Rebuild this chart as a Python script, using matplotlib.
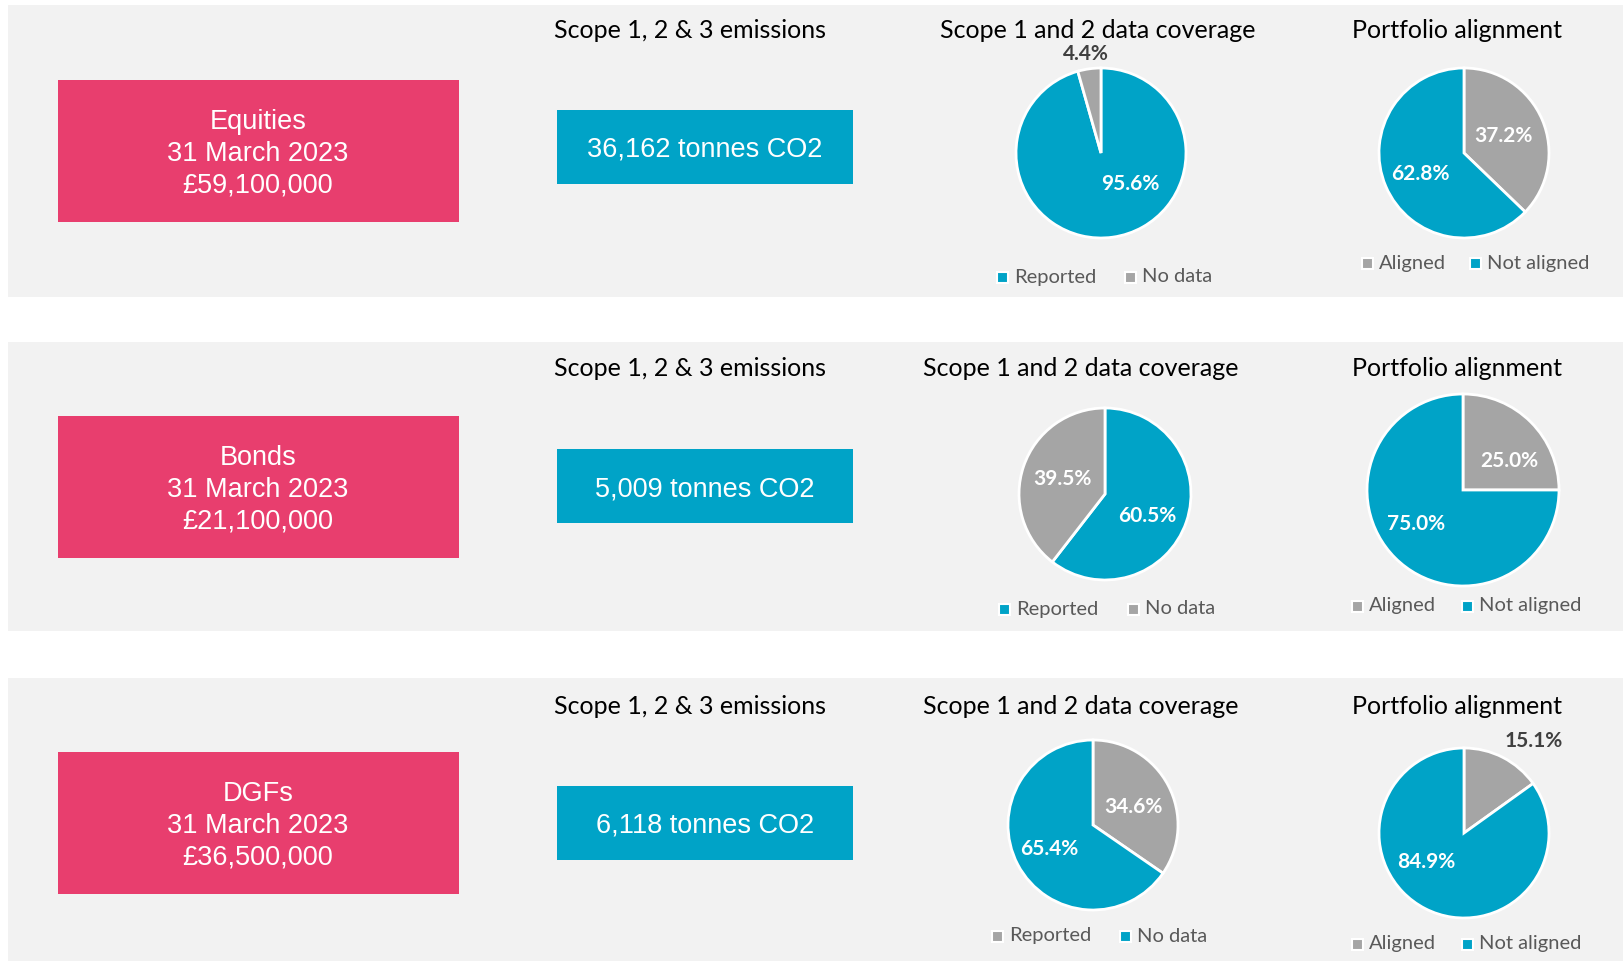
import numpy as np
import matplotlib.pyplot as plt
from matplotlib.patches import Rectangle

# data
funds = ['Equities', 'Bonds', 'DGFs']
dates = ['31 March 2023', '31 March 2023', '31 March 2023']
fund_values = [59100000, 21100000, 36500000]
emissions = [36162, 5009, 6118]
cov_labels = ['Reported', 'No data']
reported = [95.6, 60.5, 34.6]
no_data = [4.4, 39.5, 65.4]
align_labels = ['Aligned', 'Not aligned']
aligned = [37.2, 25.0, 15.1]
not_aligned = [62.8, 75.0, 84.9]

# colours
PINK = '#E83E6E'
BLUE = '#00A3C7'
GREY = '#A5A5A5'
BG = '#F2F2F2'
cov_colors = [[BLUE, GREY], [BLUE, GREY], [GREY, BLUE]]
align_colors = [GREY, BLUE]

W, H = 1623, 961
SANS = 'Liberation Sans'
CAL = 'Lato'

# layout, pixels from top-left
panel_y = [(5, 297), (342, 631), (678, 961)]
pink_y = [80, 416, 752]
blue_y = [110, 449, 786]
title_y = [30, 369, 706]
cov_pie = [(1101, 153, 85), (1105, 494, 86), (1093, 825, 85)]
align_pie = [(1464, 153, 85), (1463, 490, 96), (1464, 833, 85)]
cov_title_x = [1098, 1081, 1081]
# label positions in pie radius units
cov_lbl = [[(0.34, -0.37), (-0.18, 1.17)],
           [(0.49, -0.25), (-0.49, 0.17)],
           [(0.47, 0.21), (-0.51, -0.28)]]
align_lbl = [[(0.46, 0.20), (-0.51, -0.25)],
             [(0.48, 0.30), (-0.49, -0.35)],
             [(0.82, 1.08), (-0.45, -0.34)]]
cov_leg = [(997, 1125, 277), (999, 1128, 609), (992, 1120, 936)]
align_leg = [(1362, 1470, 263), (1352, 1462, 606), (1352, 1462, 944)]

fig = plt.figure(figsize=(W / 100, H / 100), dpi=100)
fig.patch.set_facecolor('white')
ax = fig.add_axes([0, 0, 1, 1])
ax.set_xlim(0, W)
ax.set_ylim(H, 0)
ax.axis('off')


def draw_pie(cx, cy, r, vals, colors, lbl_pos):
    pax = fig.add_axes([(cx - r) / W, (H - cy - r) / H, 2 * r / W, 2 * r / H])
    pax.pie(vals, colors=colors, startangle=90, counterclock=False,
            wedgeprops=dict(edgecolor='white', linewidth=2.0))
    pax.set_xlim(-1, 1)
    pax.set_ylim(-1, 1)
    pax.axis('off')
    for v, (dx, dy) in zip(vals, lbl_pos):
        inside = np.hypot(dx, dy) < 1
        pax.text(dx, dy, '%.1f%%' % v, ha='center', va='center', fontsize=15,
                 fontweight='bold', family=CAL,
                 color='white' if inside else '#404040', clip_on=False)


def draw_legend(x1, x2, y, labels, colors):
    for x, lab, c in zip((x1, x2), labels, colors):
        ax.add_patch(Rectangle((x, y - 5.5), 11, 11, facecolor=c,
                               edgecolor='white', linewidth=1.5))
        ax.text(x + 17, y, lab, ha='left', va='center', fontsize=14.5,
                family=CAL, color='#595959')


for i in range(3):
    y0, y1 = panel_y[i]
    ax.add_patch(Rectangle((8, y0), W - 8, y1 - y0, facecolor=BG, edgecolor='none'))

    # fund box
    ax.add_patch(Rectangle((58, pink_y[i]), 401, 142, facecolor=PINK, edgecolor='none'))
    ax.text(258, pink_y[i] + 74, '%s\n%s\n£{:,}'.format(fund_values[i]) % (funds[i], dates[i]),
            ha='center', va='center', color='white', fontsize=19.5,
            family=SANS, linespacing=1.3)

    # emissions box
    ax.text(690, title_y[i], 'Scope 1, 2 & 3 emissions', ha='center', va='center',
            fontsize=18, family=CAL, color='black')
    ax.add_patch(Rectangle((557, blue_y[i]), 296, 74, facecolor=BLUE, edgecolor='none'))
    ax.text(705, blue_y[i] + 40, '{:,} tonnes CO2'.format(emissions[i]), ha='center',
            va='center', color='white', fontsize=19.5, family=SANS)

    # coverage pie
    ax.text(cov_title_x[i], title_y[i], 'Scope 1 and 2 data coverage', ha='center',
            va='center', fontsize=18, family=CAL, color='black')
    cx, cy, r = cov_pie[i]
    draw_pie(cx, cy, r, [reported[i], no_data[i]], cov_colors[i], cov_lbl[i])
    draw_legend(*cov_leg[i], cov_labels, cov_colors[i])

    # alignment pie
    ax.text(1457, title_y[i], 'Portfolio alignment', ha='center', va='center',
            fontsize=18, family=CAL, color='black')
    cx, cy, r = align_pie[i]
    draw_pie(cx, cy, r, [aligned[i], not_aligned[i]], align_colors, align_lbl[i])
    draw_legend(*align_leg[i], align_labels, align_colors)

fig.savefig('out.png', dpi=100, facecolor='white')
